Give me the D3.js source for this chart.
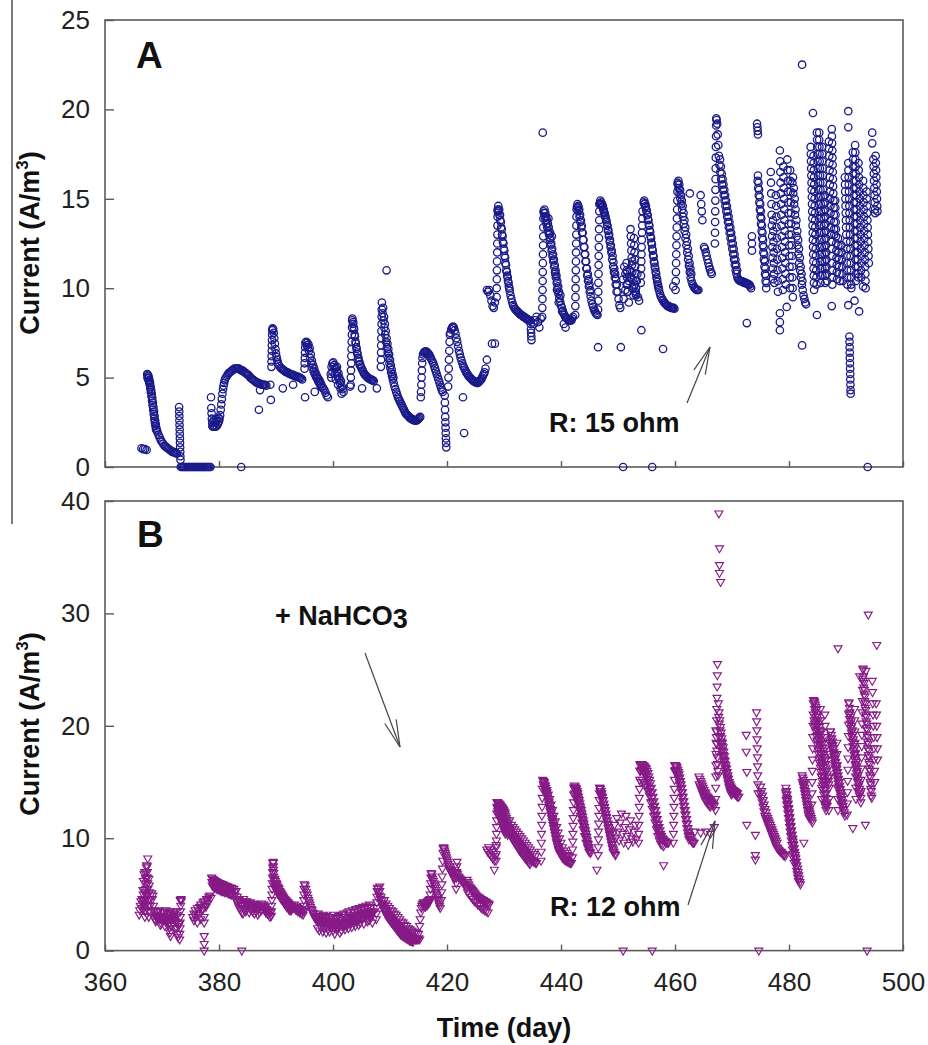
<!DOCTYPE html>
<html><head><meta charset="utf-8">
<script src="https://cdn.jsdelivr.net/npm/d3@7"></script>
<style>body{margin:0;background:#fff;} text{font-family:"Liberation Sans",Arial,sans-serif;}</style>
</head><body><svg id="c" width="928" height="1045"></svg>
<script>
const xTicks=[360,380,400,420,440,460,480,500];
const yTicksA=[0,5,10,15,20,25];
const yTicksB=[0,10,20,30,40];

// Panel A: runs of logged current [start day, sampling step (day), values A/m3]
const currentA=[
 [366.4,0.3,[1.05,1.0,1.0,0.95]],
 [367.4,0.1,[5.2,5.15,5.1,5.0,4.85,4.7,4.5,4.3,4.1,3.85,3.6,3.35,3.1,2.85,2.6,2.4,2.2,2.05,1.95]],
 [367.45,0.1,[5.0,4.95,4.85,4.75,4.6,4.4,4.2,3.95,3.7,3.45,3.2,2.95,2.7,2.5,2.3,2.1]],
 [369.4,0.2,[1.8,1.65,1.5,1.4,1.3,1.2,1.15,1.1,1.05,1.0,0.95,0.9,0.85,0.85,0.8,0.8,0.75]],
 [373.0,0.02,[3.35,3.1,2.85,2.6,2.35,2.1,1.85,1.6,1.35,1.1,0.85,0.6,0.4]],
 [373.3,0.2,[0,0,0,0,0,0,0,0,0,0,0,0,0,0,0,0,0,0,0,0,0,0,0,0,0,0,0]],
 [378.6,0.05,[3.9,3.3,3.0,2.7,2.5,2.3,2.25]],
 [379.0,0.2,[2.3,2.25,2.25,2.3,2.4,2.55]],
 [379.1,0.2,[2.6,2.5,2.55,2.65,2.75]],
 [380.1,0.1,[2.7,2.9,3.2,3.5,3.8,4.1,4.35,4.55,4.7,4.85,4.95]],
 [381.3,0.2,[5.05,5.15,5.25,5.3,5.35,5.4,5.45,5.5,5.5,5.5,5.5,5.5,5.45,5.4,5.4,5.35,5.3,5.25,5.2,5.15,5.1,5.0,4.95,4.9,4.85,4.8,4.75,4.7,4.7,4.65,4.65,4.6,4.6,4.6,4.6,4.55]],
 [389.2,0.02,[5.6,5.9,6.2,6.5,6.8,7.1,7.4,7.65]],
 [389.4,0.1,[7.75,7.7,7.5,7.2,6.9,6.6,6.35,6.15,6.0,5.85,5.75]],
 [390.6,0.2,[5.65,5.55,5.5,5.45,5.4,5.35,5.3,5.3,5.25,5.2,5.2,5.15,5.15,5.1,5.1,5.05,5.05,5.0,5.0,4.95,4.9]],
 [395.0,0.03,[5.5,5.8,6.1,6.4,6.7,6.95]],
 [395.3,0.2,[7.0,6.95,6.85,6.65,6.3,5.95,5.7,5.5,5.3,5.15,5.0,4.9,4.8,4.65,4.5,4.4,4.3,4.15,4.0,3.9]],
 [395.4,0.2,[6.8,6.7,6.5,6.1,5.8,5.55,5.35,5.2,5.05,4.95,4.8,4.7,4.55,4.45]],
 [399.6,0.15,[5.2,5.6,5.8,5.85,5.7,5.5,5.55,5.3,5.1,5.25,4.9,4.7,4.8,4.5,4.35,4.2]],
 [399.7,0.2,[5.0,5.3,5.6,5.2,4.9,5.6,4.6,5.0,4.4,4.1]],
 [403.1,0.03,[4.6,5.0,5.4,5.8,6.2,6.6,7.0,7.4,7.8,8.2]],
 [403.4,0.15,[8.3,8.1,7.7,7.3,6.9,6.6,6.3,6.1,5.9,5.75,5.6,5.5,5.4,5.3,5.2,5.15,5.1,5.05,5.0,4.95,4.95,4.9,4.9,4.85,4.85,4.8]],
 [403.5,0.15,[8.0,7.8,7.4,7.0,6.7,6.4,6.1,5.9,5.7]],
 [408.4,0.02,[5.6,6.0,6.4,6.8,7.2,7.6,8.0,8.4,8.8,9.2]],
 [408.7,0.15,[8.6,8.2,7.8,7.4,7.0,6.7,6.4,6.1,5.8,5.55,5.3,5.1,4.9,4.7,4.5,4.35,4.2,4.05,3.9,3.8,3.7,3.6,3.5,3.4,3.3,3.2,3.1,3.0,2.95,2.9,2.85,2.8,2.75,2.7,2.7,2.65,2.65,2.6,2.6,2.6,2.6,2.65,2.7,2.75,2.8]],
 [408.8,0.15,[8.9,8.4,8.0,7.6,7.2,6.9,6.6,6.3,6.0,5.7,5.45,5.2,5.0]],
 [415.4,0.05,[3.9,4.2,4.6,5.0,5.4,5.8,6.1]],
 [415.8,0.15,[6.3,6.4,6.45,6.45,6.45,6.4,6.35,6.3,6.2,6.1,6.0,5.9,5.8,5.65,5.5,5.35,5.2,5.05,4.9,4.75,4.6,4.45,4.3,4.2]],
 [419.6,0.03,[4.0,3.6,3.2,2.8,2.5,2.2,1.9,1.6,1.35,1.1]],
 [420.2,0.05,[4.5,5.0,5.5,6.0,6.5,7.0,7.4]],
 [420.6,0.15,[7.5,7.7,7.8,7.85,7.8,7.65,7.45,7.2,7.0,6.75,6.5,6.3,6.1,5.95,5.8,5.65,5.55,5.45,5.35,5.25,5.2,5.1,5.05,5.0,4.95,4.9,4.85,4.8,4.8,4.75,4.75,4.7,4.7,4.75,4.8,4.85,4.9,5.0,5.1,5.2,5.3,5.5]],
 [427.0,0.2,[9.9,9.8,9.9,9.6,9.3,9.0,8.9,9.2]],
 [428.7,0.02,[9.5,10.0,10.5,11.0,11.5,12.0,12.5,13.0,13.5,14.0,14.3]],
 [428.9,0.15,[14.4,14.3,14.1,13.8,13.4,13.0,12.6,12.2,11.8,11.4,11.0,10.7,10.4,10.1,9.85,9.6,9.4,9.2,9.05,8.95,8.85,8.8,8.75,8.7,8.65,8.6,8.55,8.5,8.5,8.45,8.4,8.4,8.35,8.3,8.3,8.25,8.2,8.2,8.2]],
 [429.0,0.15,[14.6,14.4,14.1,13.7,13.3,12.9,12.5,12.1,11.7,11.3,10.9,10.6,10.3,10.0]],
 [434.7,0.03,[8.0,7.7,7.5,7.3,7.1]],
 [435.2,0.25,[8.0,8.2,8.4,8.1,7.8,8.3]],
 [436.7,0.02,[8.4,8.9,9.4,9.9,10.4,10.9,11.4,11.9,12.4,12.9,13.4,13.9,14.3]],
 [437.0,0.15,[14.2,14.0,13.8,13.6,13.4,13.2,13.0,12.7,12.4,12.1,11.8,11.5,11.2,10.9,10.6,10.3,10.0,9.7,9.45,9.25,9.05,8.9,8.75,8.6,8.5,8.4,8.35,8.3,8.25,8.2,8.2,8.2,8.2,8.3,8.4]],
 [437.1,0.15,[14.4,14.2,14.0,13.8,13.6,13.4,13.1,12.8,12.5,12.2,11.9,11.6,11.3,11.0,10.7,10.4,10.1,9.8]],
 [437.8,0.3,[13.9,13.1,12.9,11.6,10.8,9.9,9.2,9.6,8.7,8.0,7.8]],
 [442.5,0.02,[8.5,9.0,9.5,10.0,10.5,11.0,11.5,12.0,12.5,13.0,13.5,14.0,14.4]],
 [442.8,0.15,[14.55,14.5,14.3,14.0,13.7,13.4,13.1,12.7,12.3,11.9,11.5,11.1,10.7,10.4,10.1,9.8,9.55,9.3,9.1,8.95,8.8,8.7,8.6,8.55,8.5]],
 [442.9,0.15,[14.7,14.6,14.4,14.1,13.8,13.5,13.1,12.7,12.3,11.9,11.5,11.1,10.8,10.5,10.2,9.9]],
 [446.5,0.02,[8.8,9.3,9.8,10.3,10.8,11.3,11.8,12.3,12.8,13.3,13.8,14.3,14.7]],
 [446.8,0.15,[14.75,14.7,14.65,14.55,14.4,14.25,14.1,13.9,13.7,13.5,13.25,13.0,12.7,12.4,12.1,11.8,11.45,11.1,10.8,10.5,10.2,9.8,9.4,9.05,8.9]],
 [446.9,0.15,[14.9,14.8,14.7,14.6,14.4,14.2,14.0,13.8,13.5,13.2,12.9,12.6,12.3,12.0,11.6,11.2,10.9,10.6,10.2,9.8]],
 [450.9,0.2,[10.5,11.2,10.8,10.2,9.8,10.4,11.0,10.6,10.0,9.6,10.2,9.8,10.4,9.5,9.3]],
 [451.0,0.3,[9.4,9.9,10.9,9.2,10.6,11.5,10.1,9.7,10.8]],
 [451.5,0.05,[11.4,11.0,10.6,10.2,9.8]],
 [452.2,0.05,[13.3,12.9,12.5,12.1,11.7,11.3,10.9,10.5]],
 [452.8,0.05,[12.8,12.4,12.0,11.6,11.2,10.8,10.4,10.0,9.6]],
 [454.0,0.03,[10.3,10.7,11.1,11.5,11.9,12.3,12.7,13.1,13.5,13.9,14.3]],
 [454.5,0.15,[14.8,14.7,14.55,14.35,14.1,13.85,13.55,13.25,12.9,12.55,12.2,11.85,11.5,11.2,10.9,10.6,10.35,10.1,9.9,9.7,9.55,9.45,9.35,9.3,9.2,9.15,9.1,9.05,9.0,9.0,8.95,8.95,8.9,8.9,8.9,8.9,8.85]],
 [454.6,0.15,[14.9,14.75,14.6,14.35,14.1,13.8,13.5,13.15,12.8,12.45,12.1,11.75,11.4,11.1,10.8,10.5,10.2,10.0]],
 [460.1,0.03,[9.9,10.4,10.9,11.4,11.9,12.4,12.9,13.4,13.9,14.4,14.9,15.4,15.9]],
 [460.5,0.15,[15.8,15.6,15.3,15.0,14.7,14.4,14.0,13.6,13.2,12.8,12.4,12.0,11.6,11.25,10.9,10.6,10.4,10.25,10.15,10.05,10.0,9.95,9.9,9.9,9.9]],
 [460.6,0.15,[16.0,15.8,15.5,15.2,14.9,14.6,14.2,13.8,13.4,13.0,12.6,12.2,11.8,11.4,11.1,10.8]],
 [464.5,0.1,[15.2,14.7,14.3,13.8]],
 [465.1,0.15,[12.3,12.2,12.0,11.8,11.6,11.4,11.2,11.05,10.9,10.8]],
 [467.0,0.02,[12.5,13.1,13.7,14.3,14.9,15.5,16.1,16.7,17.3,17.9,18.5,19.1,19.5]],
 [467.3,0.1,[19.4,19.2,18.6,18.0,17.4]],
 [467.8,0.15,[16.9,16.5,16.1,15.8,15.5,15.2,14.9,14.6,14.3,14.0,13.7,13.4,13.1,12.8,12.5,12.2,11.9,11.6,11.3,11.0,10.8,10.6,10.5,10.45,10.4,10.4,10.4,10.35,10.35,10.3,10.3,10.3,10.25,10.25,10.2,10.2,10.1,10.0]],
 [467.9,0.15,[17.2,16.8,16.4,16.1,15.8,15.5,15.2,14.9,14.6,14.3,14.0,13.7,13.4,13.1,12.8,12.5,12.2,11.9,11.6,11.3,11.0]],
 [474.4,0.05,[19.2,19.0,18.8,18.6]],
 [474.5,0.1,[16.0,15.6,15.2,14.8,14.4,14.0,13.6,13.2,12.8,12.4,12.0,11.6,11.2,10.8,10.4,10.0]],
 [474.55,0.1,[16.3,15.9,15.5,15.1,14.7,14.3,13.9,13.5,13.1,12.7,12.3,11.9,11.5,11.1,10.7,10.3]],
 [476.8,0.04,[16.5,15.9,15.3,14.7,14.1,13.5,12.9,12.3,11.7,11.1,10.5]],
 [477.2,0.04,[13.8,13.2,12.6,12.0,11.4,10.8,10.3]],
 [477.7,0.04,[15.2,14.6,14.0,13.4,12.8,12.2,11.6,11.0,10.4,9.8]],
 [478.4,0.04,[17.7,17.1,16.5,15.9,15.3,14.7,14.1,13.5,12.9,12.3,11.7,11.1,10.5,9.9]],
 [479.0,0.04,[16.8,16.2,15.6,15.0,14.4,13.8,13.2,12.6,12.0,11.4,10.8,10.2]],
 [479.7,0.04,[17.2,16.6,16.0,15.4,14.8,14.2,13.6,13.0,12.4,11.8,11.2,10.6,10.0]],
 [480.2,0.04,[16.6,16.0,15.4,14.8,14.2,13.6,13.0,12.4,11.8,11.2,10.6,10.0,9.5]],
 [480.6,0.15,[15.9,15.3,14.7,14.1,13.5,12.9,12.4,11.9,11.4,11.0,10.6,10.2,9.9,9.6,9.4,9.2,9.1]],
 [480.7,0.15,[16.2,15.6,15.0,14.4,13.8,13.2,12.7,12.2,11.7,11.2,10.8,10.4]],
 [483.8,0.03,[17.9,17.5,17.1,16.7,16.3,15.9,15.5,15.1,14.7,14.3,13.9,13.5,13.1,12.7,12.3,11.9,11.5,11.1,10.7,10.3,9.9]],
 [484.3,0.03,[17.4,17.0,16.6,16.2,15.8,15.4,15.0,14.6,14.2,13.8,13.4,13.0,12.6,12.2,11.8,11.4,11.0,10.6,10.2]],
 [484.9,0.03,[18.7,18.3,17.9,17.5,17.1,16.7,16.3,15.9,15.5,15.1,14.7,14.3,13.9,13.5,13.1,12.7,12.3,11.9,11.5,11.1,10.7,10.3]],
 [485.3,0.03,[18.3,17.9,17.5,17.1,16.7,16.3,15.9,15.5,15.1,14.7,14.3,13.9,13.5,13.1,12.7,12.3,11.9,11.5,11.1,10.7]],
 [485.8,0.03,[17.9,17.5,17.1,16.7,16.3,15.9,15.5,15.1,14.7,14.3,13.9,13.5,13.1,12.7,12.3,11.9,11.5,11.1,10.7,10.3]],
 [486.3,0.03,[15.2,14.8,14.4,14.0,13.6,13.2,12.8,12.4,12.0,11.6,11.2,10.8,10.4]],
 [487.0,0.03,[18.2,17.8,17.4,17.0,16.6,16.2,15.8,15.4,15.0,14.6,14.2,13.8,13.4,13.0,12.6,12.2,11.8,11.4,11.0,10.6,10.2]],
 [487.5,0.03,[18.9,18.5,18.1,17.7,17.3,16.9,16.5,16.1,15.7,15.3,14.9,14.5,14.1,13.7,13.3,13.0]],
 [488.1,0.03,[14.9,14.5,14.1,13.7,13.3,12.9,12.5,12.1,11.7,11.3,10.9,10.5]],
 [488.6,0.05,[12.8,12.4,12.0,11.6,11.2,10.8,10.4]],
 [489.2,0.05,[12.4,12.0,11.6,11.2,10.8,10.4]],
 [489.8,0.03,[16.2,15.8,15.4,15.0,14.6,14.2,13.8,13.4,13.0,12.6,12.2,11.8,11.4,11.0,10.6,10.2]],
 [490.4,0.03,[17.0,16.6,16.2,15.8,15.4,15.0,14.6,14.2,13.8,13.4,13.0,12.6,12.2,11.8,11.4,11.0,10.6,10.2,10.0]],
 [490.6,0.02,[7.3,7.0,6.7,6.4,6.1,5.8,5.5,5.2,4.9,4.6,4.3,4.1]],
 [491.2,0.03,[17.6,17.2,16.8,16.4,16.0,15.6,15.2,14.8,14.4,14.0,13.6,13.2,12.8,12.4,12.0,11.6,11.2,10.8,10.4]],
 [491.6,0.03,[18.0,17.6,17.2,16.8,16.4,16.0,15.6,15.2,14.8,14.4,14.0,13.6,13.2,12.8,12.4,12.0,11.6,11.2,10.8,10.6]],
 [492.2,0.03,[17.0,16.6,16.2,15.8,15.4,15.0,14.6,14.2,13.8,13.4,13.0,12.6,12.2,11.8,11.4,11.0,10.6]],
 [493.0,0.03,[16.0,15.6,15.2,14.8,14.4,14.0,13.6,13.2,12.8,12.4,12.0,11.6,11.2,10.8,10.4,10.0]],
 [493.6,0.04,[15.4,15.0,14.6,14.2,13.8,13.4,13.0,12.6,12.2,11.8,11.4]],
 [494.8,0.04,[17.2,16.8,16.4,16.0,15.6,15.2,14.8,14.4,14.2]],
 [495.2,0.04,[17.4,17.0,16.6,16.2,15.8,15.4,15.0,14.6,14.3]]
];
const outliersA=[[383.9,0],[387.0,3.2],[387.2,4.3],[389.1,3.75],[389.0,4.6],[391.2,4.4],[393.0,4.6],[395.1,3.9],[396.8,4.2],
 [403.0,4.5],[405.1,4.4],[407.7,4.4],[409.4,11.0],[422.8,3.9],[423.0,1.9],[427.0,6.0],[427.9,6.9],[428.4,6.9],
 [436.8,18.7],[446.5,6.7],[450.5,6.7],[450.9,0],[454.1,7.65],[456.0,0],[457.9,6.6],[459.7,10.1],[462.6,15.3],
 [472.6,8.05],[473.5,12.9],[473.5,12.5],[473.5,12.1],[478.4,8.6],[478.4,8.1],[478.4,7.65],[479.6,8.95],[482.3,22.5],
 [482.3,6.8],[484.2,19.8],[485.3,18.7],[484.9,8.5],[487.5,9.0],[490.4,19.9],[490.4,19.0],[490.4,9.05],[491.5,9.3],
 [492.3,8.7],[493.0,10.1],[493.8,0],[494.6,18.7],[494.6,18.1]];

// Panel B
const currentB=[
 [366.0,0.1,[3.2,3.6,4.0,4.4,3.8,4.6,4.2,5.0,4.5,5.4]],
 [366.6,0.06,[4.6,5.4,6.2,3.8,6.8,4.2,7.0,5.2,3.6,6.4]],
 [367.0,0.03,[3.0,3.5,4.0,4.5,5.0,5.5,6.0,6.5,7.0,7.4,7.6]],
 [367.4,0.03,[7.5,7.0,6.5,6.0,5.5,5.0,4.5,4.0,3.5,3.0]],
 [367.7,0.06,[6.4,5.8,5.2,4.6,4.0,3.4]],
 [368.2,0.1,[5.1,4.6,4.9,4.0,3.6,3.2,2.8,2.6]],
 [369.0,0.1,[3.0,2.9,3.1,3.0,2.8,3.0,2.9,3.1,3.0,2.8,2.9,3.0,3.1,2.9,2.7,2.9,3.0,2.8,2.6,2.9,3.0,2.8,2.4,2.0,1.6,1.3,2.2,2.8,3.0,2.9,3.1,3.0,2.8,2.6,3.0,2.5,2.0,1.5,1.2,2.4]],
 [369.1,0.2,[3.5,3.4,3.6,2.3,2.4,3.5,3.4,2.2,3.6,3.3,2.3,3.4,3.5,2.2,3.3,3.4,2.0,3.5,3.2,2.2]],
 [373.1,0.03,[1.0,1.5,2.0,2.5,3.0,3.5,4.0,4.5,4.6,4.4]],
 [375.4,0.2,[3.0,3.3,3.6,3.2,3.8,3.5,3.9,4.1,3.7,4.3,4.4,4.0,4.6,4.5,4.8,4.9,4.7]],
 [375.6,0.3,[2.7,3.0,2.5,3.2,2.8,3.6,3.0,3.9,4.2]],
 [378.7,0.15,[6.5,6.4,6.3,6.3,6.2,6.2,6.1,6.1,6.0,6.0,6.0,5.9,5.9,5.9,5.8,5.8,5.8,5.7,5.7,5.7,5.6,5.6,5.6,5.6,5.5]],
 [378.75,0.2,[6.1,6.0,6.0,5.9,5.8,5.8,5.7,5.6,5.6,5.5,5.5,5.4,5.4,5.3,5.3,5.2,5.2,5.1]],
 [378.8,0.2,[5.8,5.7,5.6,5.6,5.5,5.5,5.4,5.4,5.3,5.3,5.3,5.2,5.2,5.2,5.1,5.1,5.0,5.0]],
 [382.6,0.1,[5.5,5.2,4.9,4.6,5.3,4.4,4.8,4.2,4.0,4.5,3.8,4.3,3.6,4.1,3.4,4.0,3.3]],
 [384.3,0.15,[4.6,4.4,4.3,4.2,4.4,4.1,4.0,4.2,4.3,4.0,3.9,4.1,4.2,3.9,3.8,4.0,4.1,3.8,3.7,3.9,4.0,3.6]],
 [384.4,0.3,[3.7,3.5,3.8,3.4,3.6,3.5,3.3,3.5,3.2,3.4]],
 [387.5,0.12,[4.2,4.0,3.8,4.1,3.6,3.9,3.4,3.7,3.3,3.6,3.2,3.5,3.0,3.4,3.1]],
 [389.2,0.03,[3.5,4.0,4.5,5.0,5.5,6.0,6.5,7.0,7.4,7.8]],
 [389.5,0.03,[7.8,7.5,7.2,6.9,6.6,6.3,6.0,5.7]],
 [389.8,0.12,[6.4,6.2,6.0,5.9,5.7,5.6,5.5,5.3,5.2,5.1,5.0,4.9,4.8,4.7,4.6,4.5,4.5,4.4,4.3,4.3,4.2,4.1,4.1,4.0,4.0]],
 [389.85,0.12,[6.0,5.8,5.6,5.5,5.3,5.2,5.1,4.9,4.8,4.7,4.6,4.5,4.4,4.3,4.2,4.1,4.0,3.9,3.9,3.8,3.7,3.6,3.6]],
 [389.9,0.2,[5.5,5.3,5.1,5.0,4.8,4.6,4.5,4.4,4.2,4.1,4.0,3.9,3.8,3.7,3.6]],
 [392.8,0.15,[4.0,3.9,3.8,4.1,3.7,3.6,3.9,3.5,3.8,3.4,3.7,3.3,3.6,3.2,3.5]],
 [394.8,0.03,[3.5,4.0,4.5,5.0,5.5,5.9]],
 [395.1,0.12,[5.8,5.5,5.2,5.0,4.7,4.5,4.3,4.1,3.9,3.7,3.6,3.4,3.3,3.1,3.0,2.9,2.8,2.7]],
 [397.2,0.15,[2.8,2.7,2.6,2.7,2.5,2.6,2.8,2.5,2.4,2.6,2.7,2.4,2.5,2.6,2.3,2.5,2.6,2.4,2.3,2.5,2.6,2.3,2.2,2.4,2.5,2.3,2.2,2.4,2.6,2.3,2.4,2.5,2.2,2.3,2.5,2.4,2.6,2.8,2.5,2.7,2.9,2.6,2.8,3.0,2.7,2.9,3.1,2.8,3.0,3.2,2.9,3.1,3.3,3.0,3.2,3.4,3.1,3.3,3.2,3.4,3.1,3.3,3.5,3.2,3.4,3.3,3.5]],
 [397.3,0.3,[2.0,1.8,2.1,1.7,2.0,1.6,1.9,1.7,2.1,1.8,1.5,1.9,2.0,1.6,1.8,2.2,1.9,2.3,2.0,2.4,2.1,2.5,2.2,2.6,2.3,2.5,2.8,2.4,3.0,2.6,2.7,2.9,2.5]],
 [397.4,0.3,[3.3,3.1,3.0,3.2,2.9,3.1,3.0,2.8,3.0,3.2,2.9,3.0,3.1,2.8,3.2,3.3,3.0,3.4,3.5,3.2,3.6,3.4,3.7,3.5,3.8,3.6,3.9,3.7,4.0,3.8,4.1,3.9]],
 [407.6,0.03,[2.8,3.3,3.8,4.3,4.8,5.3,5.6]],
 [407.9,0.1,[5.5,5.2,4.9,5.3,4.6,4.8,4.2,4.5,3.9,4.1]],
 [408.9,0.15,[4.0,3.8,3.6,3.5,3.3,3.2,3.1,3.0,2.9,2.8,2.7,2.6,2.5,2.4,2.3,2.2,2.1,2.0,1.9,1.8,1.8,1.7,1.6,1.6,1.5,1.5,1.4,1.4,1.3,1.3,1.3,1.2,1.2,1.2,1.1,1.1,1.1,1.0,1.0,1.0,1.0,1.1,1.0]],
 [408.95,0.15,[3.7,3.5,3.3,3.2,3.0,2.9,2.8,2.7,2.6,2.5,2.4,2.3,2.2,2.1,2.0,1.9,1.8,1.7,1.6,1.5,1.4,1.4,1.3,1.3,1.2,1.2,1.1,1.1,1.0,1.0,0.9,0.9,0.9,0.8,0.8]],
 [409.0,0.3,[4.5,4.2,4.0,3.8,3.6,3.5,3.3,3.2,3.0,2.8,2.6,2.5,2.3,2.2,2.0,1.9,1.8,1.7,1.6,1.6,1.5]],
 [415.2,0.1,[2.2,2.8,3.4,3.8,4.0,4.2,4.1,4.3,4.0,4.2,3.9,4.1,4.3,4.0,4.4,4.2,4.5,4.3,4.6]],
 [417.0,0.05,[4.5,5.0,5.5,6.0,6.5,6.9]],
 [417.3,0.1,[6.8,6.6,6.4,6.2,6.0,5.8,5.6,5.4,5.2,5.0,4.8,4.6,4.4,4.2,4.0,3.8]],
 [419.0,0.05,[4.5,5.2,5.9,6.6,7.3,8.0,8.7,9.1]],
 [419.4,0.1,[9.2,9.1,8.9,8.7,8.5,8.3,8.1,7.9,7.7,7.5,7.3,7.2,7.1,7.0,6.9,6.8,6.7,6.6,6.5,6.4]],
 [421.4,0.15,[7.2,7.0,6.9,6.8,6.6,6.5,6.4,6.3,6.2,6.1,6.0,5.9,5.8,5.7,5.6]],
 [421.6,0.03,[5.5,6.0,6.5,7.0,7.5,7.9]],
 [423.5,0.15,[6.3,6.1,5.9,5.7,5.6,5.5,5.4,5.3,5.2,5.1,5.0,4.9,4.8,4.8,4.7,4.7,4.6,4.6,4.5,4.5,4.4,4.4,4.3,4.3,4.2,4.2,4.1]],
 [423.6,0.3,[5.2,5.0,4.8,4.6,4.4,4.3,4.1,4.0,3.8,3.7,3.6,3.5,3.4]],
 [427.0,0.15,[9.0,8.8,9.2,8.6,9.0,8.4,8.8,8.2,8.6,8.0,8.4,9.4]],
 [428.6,0.02,[8.0,8.6,9.2,9.8,10.4,11.0,11.6,12.2,12.8,13.2]],
 [428.8,0.1,[13.2,13.2,13.1,13.1,13.0,13.0,12.9,12.8,12.8,12.7,12.6,12.5,12.4,12.3,12.2,12.0,11.8,11.6,11.4,11.2,11.0]],
 [428.85,0.1,[12.7,12.6,12.5,12.5,12.4,12.3,12.2,12.1,12.0,11.9,11.8,11.7,11.5,11.3,11.1,10.9,10.7,10.5,10.3]],
 [428.9,0.12,[12.4,12.2,12.0,11.9,11.7,11.6,11.4,11.2,11.0,10.8,10.6,10.4]],
 [430.9,0.15,[11.0,10.8,10.6,10.4,10.3,10.2,10.1,10.0,9.9,9.8,9.7,9.6,9.5,9.4,9.3,9.2,9.1,9.0,8.9,8.8,8.7,8.6,8.5,8.4,8.3,8.2,8.1,8.0,8.0,7.9,7.9,7.8,7.8]],
 [430.95,0.15,[10.6,10.4,10.2,10.0,9.9,9.8,9.6,9.5,9.4,9.3,9.2,9.0,8.9,8.8,8.7,8.6,8.5,8.4,8.3,8.2,8.1,8.0,7.9,7.8,7.7]],
 [431.0,0.3,[11.6,11.2,11.0,10.8,10.6,10.4,10.2,10.0,9.8,9.6,9.4,9.2,9.0,8.8,8.6,8.4]],
 [436.5,0.03,[8.0,8.8,9.6,10.4,11.2,12.0,12.8,13.6,14.4,15.2]],
 [436.9,0.12,[14.8,14.6,14.4,14.2,14.0,13.8,13.6,13.3,13.0,12.7,12.4,12.1,11.8,11.5,11.2,10.9,10.6,10.3,10.0,9.7,9.5,9.3,9.1,8.9,8.7,8.6,8.5,8.4,8.3,8.2,8.2,8.1,8.1,8.0,8.0,8.0,7.9,7.9,7.9,7.8,7.8,7.8]],
 [436.95,0.12,[15.1,14.9,14.7,14.5,14.3,14.1,13.8,13.5,13.2,12.9,12.6,12.3,12.0,11.7,11.4,11.1,10.8,10.5,10.2,9.9,9.6,9.3,9.0,8.8]],
 [437.0,0.25,[15.0,14.7,14.3,13.9,13.5,13.0,12.5,12.0,11.5,11.0,10.5,10.0,9.6,9.2,8.9,8.7,8.5,8.4,8.4]],
 [442.0,0.03,[8.3,9.0,9.7,10.4,11.1,11.8,12.5,13.2,13.9,14.5]],
 [442.3,0.12,[14.5,14.4,14.3,14.2,14.0,13.8,13.5,13.2,12.9,12.6,12.3,12.0,11.7,11.4,11.1,10.8,10.5,10.2,9.9,9.6,9.4,9.2,9.0,8.8,8.7]],
 [442.35,0.12,[14.7,14.6,14.5,14.4,14.2,14.0,13.7,13.4,13.1,12.8,12.5,12.2,11.9,11.6,11.3,11.0,10.7,10.4,10.1,9.8,9.5,9.2]],
 [442.4,0.25,[14.0,13.6,13.2,12.6,12.0,11.4,10.8,10.2,9.6,9.2,8.8]],
 [446.5,0.03,[8.5,9.2,9.9,10.6,11.3,12.0,12.7,13.4,14.0,14.5]],
 [446.8,0.12,[14.5,14.4,14.2,14.0,13.7,13.4,13.1,12.8,12.5,12.2,11.9,11.6,11.3,11.0,10.7,10.4,10.1,9.8,9.5,9.2,9.0,8.8,8.6,8.5]],
 [446.85,0.12,[14.2,14.0,13.8,13.6,13.3,13.0,12.7,12.4,12.1,11.8,11.5,11.2,10.9,10.6,10.3,10.0,9.7,9.4,9.1,8.8]],
 [449.0,0.2,[9.5,10.5,11.2,10.0,11.8,10.6,9.8,11.4,12.2,10.4,9.6,11.0,12.0,10.2,9.4,10.8,11.6,10.0,9.7,10.6,11.2,9.9]],
 [453.6,0.03,[9.6,10.4,11.2,12.0,12.8,13.6,14.4,15.2,16.0,16.6]],
 [453.9,0.15,[16.5,16.6,16.6,16.5,16.5,16.4,16.3,16.2,16.0,15.8,15.5,15.2,14.9,14.5,14.1,13.7,13.3,12.9,12.5,12.1,11.7,11.3,11.0,10.7,10.4,10.2,10.0,9.9,9.8,9.7,9.7,9.6,9.6,9.6]],
 [453.95,0.15,[16.0,16.1,16.1,16.0,15.9,15.8,15.7,15.5,15.3,15.0,14.7,14.4,14.0,13.6,13.2,12.8,12.4,12.0,11.6,11.2,10.9,10.6,10.3,10.1,9.9]],
 [454.0,0.25,[15.0,15.2,15.0,14.8,14.6,14.2,13.8,13.2,12.6,12.0,11.4,10.8,10.2,9.8,9.5,9.4,9.3]],
 [459.7,0.03,[9.6,10.4,11.2,12.0,12.8,13.6,14.4,15.2,16.0,16.5]],
 [460.0,0.12,[16.5,16.5,16.4,16.3,16.1,15.9,15.7,15.4,15.1,14.8,14.5,14.1,13.7,13.3,12.9,12.5,12.1,11.7,11.3,10.9,10.6,10.3,10.1,9.9,9.8,9.7,9.6,9.6,9.6]],
 [460.05,0.12,[16.1,16.0,15.9,15.7,15.5,15.3,15.0,14.7,14.4,14.1,13.7,13.3,12.9,12.5,12.1,11.7,11.3,10.9,10.5,10.2,9.9]],
 [464.2,0.15,[15.5,15.3,15.1,14.9,14.7,14.5,14.3,14.1,14.0,13.8,13.7,13.6,13.5,13.4,13.3,13.2,13.1,13.0,12.9]],
 [464.25,0.15,[14.8,14.6,14.4,14.2,14.0,13.8,13.6,13.4,13.3,13.2,13.1,13.0,12.9,12.8]],
 [467.1,0.02,[12.5,13.5,14.5,15.5,16.5,17.5,18.5,19.5]],
 [467.3,0.03,[20.5,21.5,22.5,23.5,24.5,25.5]],
 [467.2,0.05,[19.6,19.0,18.4,17.8,17.2,16.6,16.0,15.6]],
 [467.6,0.12,[22.0,21.2,20.5,19.9,19.4,18.9,18.5,18.1,17.7,17.3,16.9,16.5,16.2,15.9,15.6,15.3,15.0,14.8,14.6,14.5,14.4,14.3,14.3,14.2,14.2,14.1,14.1,14.0,14.0]],
 [467.65,0.12,[20.8,20.2,19.6,19.1,18.6,18.2,17.8,17.4,17.0,16.6,16.2,15.8,15.5,15.2,14.9,14.6,14.4,14.2,14.0,13.9]],
 [467.8,0.2,[19.0,18.4,17.8,17.3,16.8,16.3,15.8,15.4,15.0,14.7,14.4,14.2,14.1,14.0,13.9,13.8,13.7,13.7]],
 [474.3,0.03,[21.2,20.4,19.6,18.8,18.0,17.2,16.4,15.6,14.8,14.0]],
 [475.0,0.15,[14.0,13.6,13.2,12.8,12.4,12.0,11.8,11.6,11.4,11.2,11.0,10.8,10.6,10.4,10.2,10.0,9.8,9.6,9.4,9.2,9.1,9.0,8.9,8.8,8.8,8.7,8.6,8.5,8.5,8.4]],
 [475.05,0.15,[14.6,14.2,13.8,13.4,13.0,12.6,12.3,12.0,11.8,11.6,11.4,11.2,11.0,10.8,10.6,10.4,10.2,10.0,9.8,9.6]],
 [479.4,0.1,[14.1,13.9,13.6,13.3,13.0,12.6,12.2,11.8,11.4,11.0,10.6,10.3,10.0,9.7,9.4,9.1,8.8,8.5,8.2,7.9,7.6,7.3,7.0,6.7,6.4,6.1,5.9]],
 [479.45,0.1,[14.5,14.2,13.9,13.5,13.1,12.7,12.3,11.9,11.5,11.1,10.7,10.3,9.9,9.5,9.1,8.7,8.3,7.9,7.5,7.1,6.8,6.5,6.2]],
 [479.5,0.1,[13.4,13.0,12.6,12.2,11.8,11.4,11.0,10.6,10.2,9.8,9.4,9.0,8.6,8.2,7.8]],
 [482.3,0.1,[15.6,15.4,15.2,15.0,14.8,14.5,14.2,13.9,13.6,13.3,13.0,12.8,12.6,12.4,12.2,12.0,11.8,11.6,11.4]],
 [482.35,0.1,[15.0,14.8,14.6,14.3,14.0,13.7,13.4,13.1,12.8,12.5,12.2,12.0,11.8]],
 [484.0,0.03,[13.0,14.0,15.0,16.0,17.0,18.0,19.0,20.0,21.0,22.0]],
 [484.3,0.1,[22.3,22.2,22.1,21.9,21.7,21.4,21.1,20.8,20.5,20.2,19.9,19.6,19.3,19.0,18.7,18.4,18.1,17.8,17.5,17.2,16.9,16.6,16.3,16.0,15.7,15.4,15.1,14.8]],
 [484.4,0.1,[20.5,20.2,19.9,19.5,19.1,18.7,18.3,17.9,17.5,17.1,16.7,16.3,15.9,15.5,15.1,14.7,14.3,13.9,13.5,13.1,12.8,12.5]],
 [484.5,0.1,[21.5,21.2,20.8,20.4,20.0,19.6,19.2,18.8,18.4,18.0,17.6,17.2,16.8,16.4,16.0,15.6,15.2,14.8,14.4,14.0,13.6,13.2,12.9]],
 [485.5,0.03,[21.5,20.5,19.5,18.5,17.5,16.5,15.5,14.5,13.5]],
 [486.3,0.03,[21.0,20.0,19.0,18.0,17.0,16.0,15.0,14.0,13.0]],
 [487.0,0.03,[12.5,13.5,14.5,15.5,16.5,17.5,18.5,19.5]],
 [487.3,0.1,[19.5,19.2,18.9,18.6,18.3,18.0,17.7,17.4,17.1,16.8,16.5,16.2,15.9,15.6,15.3,15.0,14.7,14.4,14.1,13.8,13.5,13.2,12.9,12.6,12.3,12.0]],
 [487.35,0.1,[18.8,18.5,18.2,17.9,17.6,17.3,17.0,16.7,16.4,16.1,15.8,15.5,15.2,14.9,14.6,14.3,14.0,13.7,13.4,13.1,12.8,12.5]],
 [488.4,0.03,[18.5,17.5,16.5,15.5,14.5,13.5,12.5]],
 [490.2,0.03,[12.1,13.1,14.1,15.1,16.1,17.1,18.1,19.1,20.1,21.1,22.1]],
 [490.5,0.1,[22.0,21.6,21.2,20.8,20.4,20.0,19.6,19.2,18.8,18.4,18.0,17.6,17.2,16.8,16.4,16.0,15.6,15.2,14.8,14.4,14.0,13.6]],
 [490.55,0.1,[21.0,20.6,20.2,19.8,19.4,19.0,18.6,18.2,17.8,17.4,17.0,16.6,16.2,15.8,15.4,15.0,14.6,14.2,13.8]],
 [491.5,0.03,[21.5,20.5,19.5,18.5,17.5,16.5,15.5,14.5,13.5]],
 [492.6,0.03,[13.2,14.2,15.2,16.2,17.2,18.2,19.2,20.2,21.2,22.2,23.2,24.2,25.1]],
 [493.0,0.08,[25.0,24.4,23.8,23.2,22.6,22.0,21.4,20.8,20.2,19.6,19.0,18.4,17.8,17.2,16.6,16.0,15.4,14.8,14.2,13.6]],
 [493.05,0.08,[24.0,23.4,22.8,22.2,21.6,21.0,20.4,19.8,19.2,18.6,18.0,17.4,16.8,16.2,15.6,15.0,14.4,13.8]],
 [494.6,0.05,[24.0,23.0,22.0,21.0,20.0,19.0,18.0,17.0,16.0,15.0]],
 [495.3,0.05,[22.0,21.0,20.0,19.0,18.0,17.0]]
];
const outliersB=[[377.4,2.5],[377.4,1.3],[377.4,0.6],[377.4,0.0],[384.0,0],[367.5,8.2],[373.2,4.5],[389.5,7.9],[408.2,5.7],
 [428.3,7.2],[446.3,7.2],[458.0,7.6],[450.9,0],[456.0,0],[474.7,0],[493.7,0],
 [463.5,10.6],[464.5,10.5],[465.4,10.6],[466.2,10.4],[466.9,11.0],
 [467.7,38.9],[467.8,35.8],[467.8,34.3],[467.8,33.6],[468.0,32.8],
 [472.5,19.2],[472.5,17.7],[472.6,15.9],[472.6,11.2],[474.1,10.3],[474.1,8.5],[474.1,8.1],
 [488.6,26.9],[493.9,29.9],[495.4,27.2],[492.4,24.4],[493.5,24.9],[491.2,10.9],[493.4,11.2],[482.6,9.6]];

const svg=d3.select("#c");
const x=d3.scaleLinear().domain([360,500]).range([105,903]);
const yA=d3.scaleLinear().domain([0,25]).range([467,20]);
const yB=d3.scaleLinear().domain([0,40]).range([950.6,501]);
const AX="#5a5a5a";

function expand(runs){const p=[];runs.forEach(([t0,dt,vals])=>vals.forEach((v,i)=>p.push([t0+i*dt,v])));return p;}

svg.append("line").attr("x1",12).attr("x2",12).attr("y1",0).attr("y2",524).attr("stroke",AX).attr("stroke-width",1.6);

function panel(y,ticks,top,bottom,labels){
  const g=svg.append("g");
  g.append("rect").attr("x",105).attr("y",top).attr("width",798).attr("height",bottom-top)
   .attr("fill","none").attr("stroke",AX).attr("stroke-width",1.6);
  const ya=g.append("g").attr("transform","translate(105,0)")
   .call(d3.axisLeft(y).tickValues(ticks).tickSizeInner(-9).tickSizeOuter(0).tickPadding(15).tickFormat(d3.format("d")));
  ya.select(".domain").remove();
  ya.selectAll("line").attr("stroke",AX).attr("stroke-width",1.4);
  ya.selectAll("text").attr("font-size",26).attr("fill","#222").attr("font-family","Liberation Sans, Arial, sans-serif");
  const xa=g.append("g").attr("transform",`translate(0,${bottom})`)
   .call(d3.axisBottom(x).tickValues(xTicks).tickSizeInner(-6).tickSizeOuter(0).tickPadding(22).tickFormat(labels?d3.format("d"):""));
  xa.select(".domain").remove();
  xa.selectAll("line").attr("stroke",AX).attr("stroke-width",1.4);
  xa.selectAll("text").attr("font-size",26).attr("fill","#222").attr("font-family","Liberation Sans, Arial, sans-serif");
  return g;
}
panel(yA,yTicksA,20,467,false);
panel(yB,yTicksB,501,950.6,true);

const ptsA=expand(currentA).concat(outliersA);
svg.append("g").selectAll("circle").data(ptsA).join("circle")
 .attr("cx",d=>x(d[0])).attr("cy",d=>yA(d[1])).attr("r",3.7)
 .attr("fill","none").attr("stroke","#1a1a8a").attr("stroke-width",1.3);
const ptsB=expand(currentB).concat(outliersB);
svg.append("g").selectAll("path").data(ptsB).join("path")
 .attr("d","M-4,-2.4L4,-2.4L0,4.5Z")
 .attr("transform",d=>`translate(${x(d[0])},${yB(d[1])})`)
 .attr("fill","none").attr("stroke","#861a86").attr("stroke-width",1.15);

function ytitle(cy){
  const t=svg.append("text").attr("transform",`translate(39,${cy}) rotate(-90)`).attr("text-anchor","middle")
   .attr("font-size",27).attr("font-weight","bold").attr("fill","#111");
  t.append("tspan").text("Current (A/m");
  t.append("tspan").text("3").attr("font-size",17).attr("dy",-11);
  t.append("tspan").text(")").attr("dy",11);
}
ytitle(243); ytitle(724);
svg.append("text").attr("x",504).attr("y",1037).attr("text-anchor","middle").attr("font-size",27).attr("font-weight","bold").attr("fill","#111").text("Time (day)");
svg.append("text").attr("x",136).attr("y",68).attr("font-size",37).attr("font-weight","bold").attr("fill","#111").text("A");
svg.append("text").attr("x",137).attr("y",547).attr("font-size",37).attr("font-weight","bold").attr("fill","#111").text("B");
svg.append("text").attr("x",549).attr("y",432).attr("font-size",27).attr("font-weight","bold").attr("fill","#111").text("R: 15 ohm");
svg.append("text").attr("x",550).attr("y",916).attr("font-size",27).attr("font-weight","bold").attr("fill","#111").text("R: 12 ohm");
const nt=svg.append("text").attr("x",275).attr("y",625).attr("font-size",27).attr("font-weight","bold").attr("fill","#111");
nt.append("tspan").text("+ NaHCO");
nt.append("tspan").text("3").attr("dy",3);

function arrow(x1,y1,x2,y2){
  const g=svg.append("g").attr("stroke","#444").attr("stroke-width",1.2).attr("fill","none");
  g.append("line").attr("x1",x1).attr("y1",y1).attr("x2",x2).attr("y2",y2);
  const a=Math.atan2(y1-y2,x1-x2), L=28, h=0.22;
  [a-h,a+h].forEach(b=>g.append("line").attr("x1",x2).attr("y1",y2).attr("x2",x2+L*Math.cos(b)).attr("y2",y2+L*Math.sin(b)));
}
arrow(687,403,710,347);
arrow(365,653,400,747);
arrow(688,905,715,821);
</script></body></html>
